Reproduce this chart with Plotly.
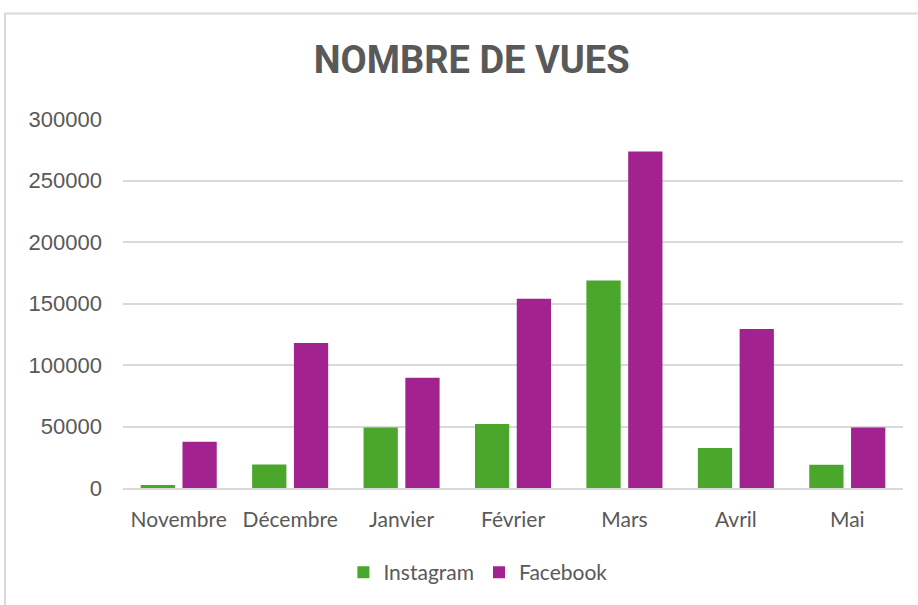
import plotly.graph_objects as go

months = ["Novembre", "Décembre", "Janvier", "Février", "Mars", "Avril", "Mai"]
instagram = [2400, 19200, 49200, 52100, 168800, 32500, 18900]
facebook = [37600, 117800, 89700, 153800, 273600, 129300, 49200]
y_ticks = [0, 50000, 100000, 150000, 200000, 250000, 300000]

GREEN = "#4ba72c"
PURPLE = "#a2238f"
TXT = "#595959"

fig = go.Figure()
fig.add_trace(go.Bar(name="Instagram", x=months, y=instagram,
                     marker=dict(color=GREEN, line=dict(width=0))))
fig.add_trace(go.Bar(name="Facebook", x=months, y=facebook,
                     marker=dict(color=PURPLE, line=dict(width=0))))

fig.update_layout(
    width=918, height=605,
    margin=dict(l=123, r=15, t=119, b=115),
    paper_bgcolor="white", plot_bgcolor="white",
    barmode="group", bargap=0.25, bargroupgap=0.18,
    font=dict(family="Lato", color=TXT, size=21),
    title=dict(text="<b>NOMBRE DE VUES</b>", x=0.447, xref="paper", xanchor="center",
               y=1 - 60 / 605, yref="container", yanchor="middle",
               font=dict(family="Roboto", size=38, color=TXT)),
    showlegend=True,
    legend=dict(orientation="h", x=0.455, xanchor="center", y=-0.229, yanchor="middle",
                font=dict(size=21, color=TXT), itemwidth=30, traceorder="normal"),
    xaxis=dict(showgrid=False, showline=True, linecolor="#d9d9d9", linewidth=2,
               ticks="", ticklabelstandoff=12, tickfont=dict(family="Lato", size=21, color=TXT)),
    yaxis=dict(range=[0, 300000], tickvals=y_ticks, ticktext=[str(v) for v in y_ticks],
               showgrid=True, gridcolor="#d9d9d9", gridwidth=2, zeroline=False,
               showline=False, ticks="", ticklabelstandoff=20,
               tickfont=dict(family="Liberation Sans", size=22, color=TXT)),
    shapes=[dict(type="rect", xref="paper", yref="paper",
                 x0=(5 - 123) / 780, x1=1.2, y0=-0.5, y1=(490 - 13) / 371,
                 line=dict(color="#d9d9d9", width=2), fillcolor="rgba(0,0,0,0)",
                 layer="below")],
)

fig.write_html("out.html", config={"displayModeBar": False},
               post_script="document.body.style.margin='0';")
